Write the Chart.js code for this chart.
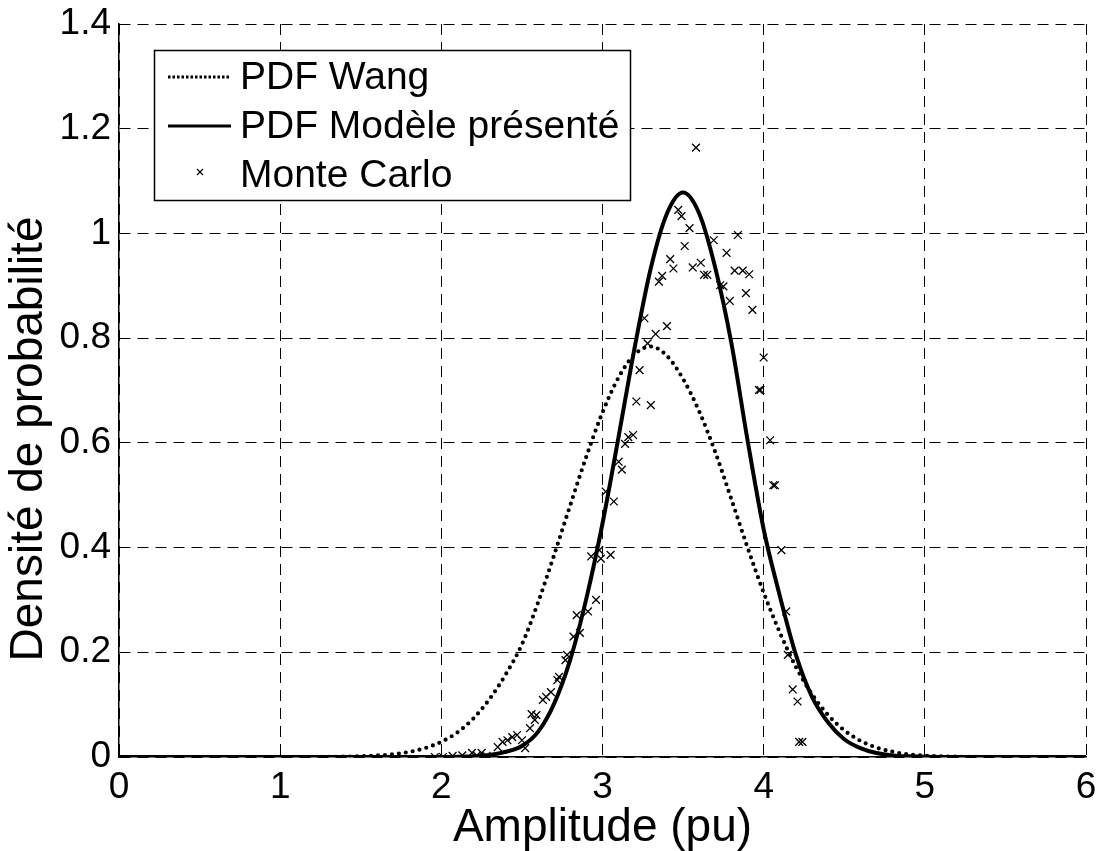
<!DOCTYPE html>
<html>
<head>
<meta charset="utf-8">
<script src="https://cdn.jsdelivr.net/npm/chart.js@4.4.1/dist/chart.umd.min.js"></script>
<style>
  html, body { margin: 0; padding: 0; background: #ffffff; }
  canvas { display: block; }
</style>
</head>
<body>
<canvas id="pdfChart" width="1099" height="851"></canvas>
<script>
// Axis ticks
const xTickValues = [0, 1, 2, 3, 4, 5, 6];
const yTickValues = [0, 0.2, 0.4, 0.6, 0.8, 1, 1.2, 1.4];

// PDF Wang (amplitude, density)
const wangX = [0, 1.2, 1.3, 1.4, 1.5, 1.6, 1.7, 1.8, 1.9, 2.0, 2.1, 2.2, 2.3, 2.4, 2.5, 2.6, 2.7, 2.8, 2.9, 3.0,
               3.1, 3.2, 3.3, 3.4, 3.5, 3.6, 3.7, 3.8, 3.9, 4.0, 4.1, 4.2, 4.3, 4.4, 4.5, 4.6, 4.7, 4.8, 4.9, 5.0,
               5.1, 5.2, 5.4, 6];
const wangY = [0, 0, 0.0003, 0.0007, 0.0014, 0.0028, 0.0053, 0.0097, 0.017, 0.029, 0.047, 0.074, 0.111, 0.158, 0.215, 0.295, 0.386, 0.481, 0.574, 0.658,
               0.725, 0.769, 0.784, 0.766, 0.722, 0.660, 0.582, 0.492, 0.400, 0.314, 0.238, 0.172, 0.120, 0.080, 0.051, 0.031, 0.018, 0.010, 0.005, 0.0025,
               0.0012, 0.0005, 0, 0];

// PDF Modèle présenté (amplitude, density)
const modelX = [0, 2.0, 2.1, 2.2, 2.3, 2.4, 2.5, 2.6, 2.7, 2.8, 2.9, 3.0, 3.1, 3.2, 3.3, 3.4, 3.5, 3.6, 3.7, 3.8,
                3.9, 4.0, 4.1, 4.2, 4.3, 4.4, 4.5, 4.6, 4.7, 4.8, 4.9, 5.0, 5.2, 6];
const modelY = [0, 0, 0.0005, 0.0015, 0.004, 0.010, 0.021, 0.048, 0.102, 0.186, 0.303, 0.446, 0.612, 0.783, 0.934, 1.038, 1.078, 1.038, 0.934, 0.790,
                0.605, 0.435, 0.308, 0.195, 0.115, 0.066, 0.034, 0.017, 0.0075, 0.003, 0.0012, 0.0004, 0, 0];

// Monte Carlo samples (amplitude, density)
const mcX = [1.96, 2.01, 2.07, 2.13, 2.19, 2.22, 2.25, 2.28, 2.35, 2.38, 2.41, 2.44, 2.47, 2.50, 2.52, 2.55, 2.56, 2.58, 2.59, 2.63,
             2.65, 2.68, 2.72, 2.73, 2.77, 2.78, 2.82, 2.84, 2.86, 2.91, 2.96, 2.93, 2.98, 2.99, 3.05, 3.02, 3.07, 3.12, 3.10, 3.14,
             3.16, 3.19, 3.21, 3.30, 3.23, 3.28, 3.33, 3.40, 3.26, 3.35, 3.37, 3.44, 3.42, 3.51, 3.47, 3.49, 3.54, 3.58, 3.56, 3.61,
             3.63, 3.65, 3.69, 3.84, 3.77, 3.82, 3.87, 3.91, 3.73, 3.75, 3.79, 3.89, 3.93, 4.00, 3.97, 3.98, 4.04, 4.06, 4.07, 4.11,
             4.14, 4.15, 4.18, 4.21, 4.22, 4.24];
const mcY = [0.0, 0.0, 0.002, 0.003, 0.008, 0.003, 0.008, 0.002, 0.019, 0.029, 0.032, 0.038, 0.042, 0.032, 0.017, 0.055, 0.082, 0.071, 0.080, 0.109,
             0.115, 0.124, 0.147, 0.153, 0.185, 0.195, 0.230, 0.271, 0.237, 0.278, 0.300, 0.383, 0.395, 0.379, 0.386, 0.507, 0.488, 0.549, 0.564, 0.598,
             0.611, 0.615, 0.679, 0.672, 0.739, 0.790, 0.808, 0.823, 0.838, 0.908, 0.919, 0.933, 0.951, 0.976, 1.045, 1.033, 1.010, 1.164, 0.935, 0.944,
             0.921, 0.921, 0.987, 0.997, 0.963, 0.929, 0.929, 0.922, 0.901, 0.899, 0.871, 0.886, 0.854, 0.763, 0.701, 0.701, 0.605, 0.519, 0.519, 0.395,
             0.278, 0.195, 0.129, 0.106, 0.029, 0.029];

const seriesLabels = ['PDF Wang', 'PDF Modèle présenté', 'Monte Carlo'];
const axisTitleX = 'Amplitude (pu)';
const axisTitleY = 'Densité de probabilité';

const FONT = 'Arial, "Liberation Sans", Helvetica, sans-serif';
const pairs = (xs, ys) => xs.map((x, i) => ({ x: x, y: ys[i] }));
const tickText = (v) => String(Math.round(v * 10) / 10);

// Vertical axis title, drawn in the left margin
const verticalTitle = {
  id: 'verticalTitle',
  afterDraw(chart) {
    const ctx = chart.ctx;
    ctx.save();
    ctx.translate(29, 439);
    ctx.rotate(-Math.PI / 2);
    ctx.fillStyle = '#000000';
    ctx.font = '46px ' + FONT;
    ctx.textAlign = 'center';
    ctx.textBaseline = 'middle';
    ctx.fillText(axisTitleY, 0, 0);
    ctx.restore();
  }
};

// Framed legend drawn inside the plot, top-left
const framedLegend = {
  id: 'framedLegend',
  afterDraw(chart) {
    const ctx = chart.ctx;
    const ds = chart.data.datasets;
    const left = 154, top = 50, right = 630, bottom = 200;
    const rows = [77, 126, 175];
    ctx.save();
    ctx.fillStyle = '#ffffff';
    ctx.fillRect(left, top, right - left, bottom - top);
    ctx.strokeStyle = '#000000';
    ctx.lineWidth = 1.5;
    ctx.strokeRect(left + 0.5, top + 0.5, right - left, bottom - top);

    // dotted sample
    ctx.beginPath();
    ctx.setLineDash([2.5, 2]);
    ctx.lineWidth = 2.8;
    ctx.moveTo(168, rows[0]);
    ctx.lineTo(231, rows[0]);
    ctx.stroke();
    // solid sample
    ctx.beginPath();
    ctx.setLineDash([]);
    ctx.lineWidth = 3.2;
    ctx.moveTo(168, rows[1]);
    ctx.lineTo(231, rows[1]);
    ctx.stroke();
    // cross marker sample
    ctx.lineWidth = 1.2;
    const mx = 200, my = rows[2] - 3, r = 3;
    ctx.beginPath();
    ctx.moveTo(mx - r, my - r); ctx.lineTo(mx + r, my + r);
    ctx.moveTo(mx - r, my + r); ctx.lineTo(mx + r, my - r);
    ctx.stroke();

    ctx.fillStyle = '#000000';
    ctx.font = '39px ' + FONT;
    ctx.textBaseline = 'middle';
    ctx.textAlign = 'left';
    ds.forEach((d, i) => ctx.fillText(d.label, 240, rows[i] + 1));
    ctx.restore();
  }
};

new Chart(document.getElementById('pdfChart'), {
  type: 'line',
  data: {
    datasets: [
      {
        label: seriesLabels[0],
        data: pairs(wangX, wangY),
        borderColor: '#000000',
        borderWidth: 4.2,
        borderDash: [0, 7],
        borderCapStyle: 'round',
        cubicInterpolationMode: 'monotone',
        pointRadius: 0,
        fill: false
      },
      {
        label: seriesLabels[1],
        data: pairs(modelX, modelY),
        borderColor: '#000000',
        borderWidth: 4,
        cubicInterpolationMode: 'monotone',
        pointRadius: 0,
        fill: false
      },
      {
        label: seriesLabels[2],
        data: pairs(mcX, mcY),
        showLine: false,
        pointStyle: 'crossRot',
        pointRadius: 5.5,
        pointBorderWidth: 1.3,
        pointBorderColor: '#000000',
        pointBackgroundColor: '#000000',
        borderColor: '#000000'
      }
    ]
  },
  options: {
    responsive: false,
    devicePixelRatio: 1,
    animation: false,
    layout: { padding: { left: 0, right: 13, top: 24, bottom: 0 } },
    plugins: {
      legend: { display: false },
      tooltip: { enabled: false }
    },
    scales: {
      x: {
        type: 'linear',
        min: 0,
        max: 6,
        afterBuildTicks: (s) => { s.ticks = xTickValues.map(v => ({ value: v })); },
        afterFit: (s) => { s.height = 94; s.paddingLeft = 0; s.paddingRight = 0; },
        ticks: {
          color: '#000000',
          font: { family: FONT, size: 37 },
          padding: 9,
          maxRotation: 0,
          callback: tickText
        },
        grid: { color: '#000000', lineWidth: 1, drawTicks: false },
        border: { display: true, color: '#000000', width: 1.5, dash: [11, 7] },
        title: {
          display: true,
          text: axisTitleX,
          color: '#000000',
          font: { family: FONT, size: 46, lineHeight: 1.0 },
          padding: { top: 0, bottom: 0 }
        }
      },
      y: {
        type: 'linear',
        min: 0,
        max: 1.4,
        afterBuildTicks: (s) => { s.ticks = yTickValues.map(v => ({ value: v })); },
        afterFit: (s) => { s.width = 119; s.paddingTop = 0; s.paddingBottom = 0; },
        ticks: {
          color: '#000000',
          font: { family: FONT, size: 37 },
          padding: 8,
          callback: tickText
        },
        grid: { color: '#000000', lineWidth: 1, drawTicks: false },
        border: { display: true, color: '#000000', width: 1.5, dash: [11, 7] },
        title: { display: false }
      }
    }
  },
  plugins: [framedLegend, verticalTitle]
});
</script>
</body>
</html>
